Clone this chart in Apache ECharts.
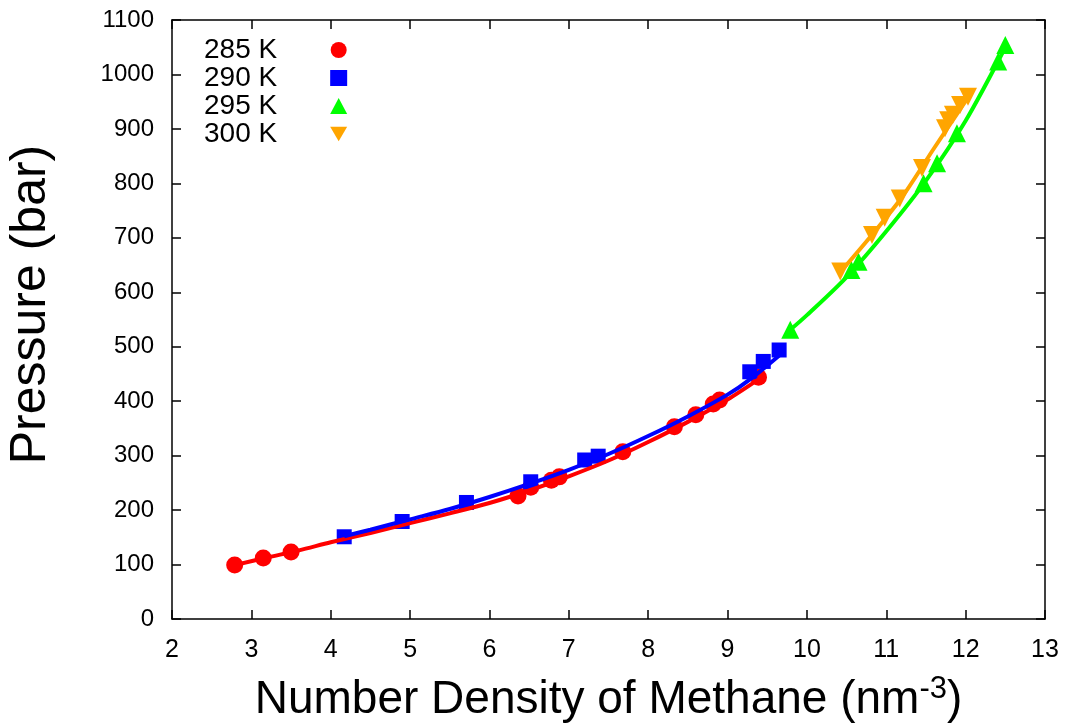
<!DOCTYPE html>
<html>
<head>
<meta charset="utf-8">
<script src="https://cdn.jsdelivr.net/npm/echarts@6/dist/echarts.min.js"></script>
<style>html,body{margin:0;padding:0;background:#fff}#chart{width:1065px;height:724px}</style>
</head>
<body>
<div id="chart"></div>
<script>
// Measured points (density nm^-3, pressure bar)
var d285x = [2.79, 3.15, 3.50, 6.36, 6.52, 6.78, 6.88, 7.68, 8.33, 8.60, 8.82, 8.90, 9.39];
var d285y = [99, 112, 123, 226, 242, 255, 261, 307, 353, 375, 395, 402, 444];
var d290x = [4.17, 4.90, 5.71, 6.52, 7.20, 7.37, 9.28, 9.45, 9.65];
var d290y = [151, 179, 214, 252, 292, 299, 454, 473, 494];
var d295x = [9.79, 10.56, 10.65, 11.47, 11.64, 11.89, 12.41, 12.50];
var d295y = [531, 641, 656, 800, 837, 892, 1024, 1054];
var d300x = [10.42, 10.82, 10.98, 11.17, 11.45, 11.74, 11.78, 11.84, 11.93, 12.03];
var d300y = [638, 705, 737, 772, 828, 901, 916, 926, 944, 959];
// Fitted curves
var f285x = [2.79, 3.2, 3.6, 4, 4.5, 5, 5.5, 6, 6.5, 7, 7.5, 8, 8.5, 9, 9.39];
var f285y = [99, 113, 126, 141, 158, 176, 194, 213, 236, 262, 291, 325, 362, 403, 440];
var f290x = [4.17, 4.5, 5, 5.5, 6, 6.5, 7, 7.5, 8, 8.5, 9, 9.3, 9.7];
var f290y = [152, 164, 183, 202, 224, 248, 274, 303, 336, 372, 412, 442, 490];
var f295x = [9.79, 10, 10.5, 11, 11.5, 12, 12.5];
var f295y = [531, 558, 628, 712, 805, 915, 1050];
var f300x = [10.42, 10.8, 11.2, 11.6, 12.05];
var f300y = [637, 702, 775, 864, 962];
var names = ['285 K', '290 K', '295 K', '300 K'];
var colors = ['#ff0000', '#0000ff', '#00ff00', '#ffa500'];
var symbols = ['circle', 'rect', 'triangle', 'path://M0,0 L10,0 L5,8.66 Z'];
var symSizes = [17, 15, 18, 18];

function pairs(xs, ys) { return xs.map(function (x, i) { return [x, ys[i]]; }); }
var pts = [pairs(d285x, d285y), pairs(d290x, d290y), pairs(d295x, d295y), pairs(d300x, d300y)];
var fits = [pairs(f285x, f285y), pairs(f290x, f290y), pairs(f295x, f295y), pairs(f300x, f300y)];

var series = [];
for (var i = 0; i < 4; i++) {
  series.push({
    name: names[i], type: 'scatter', data: pts[i], symbol: symbols[i], symbolSize: symSizes[i],
    itemStyle: { color: colors[i], opacity: 1 }, z: 2, xAxisIndex: 0, yAxisIndex: 0
  });
}
for (var j = 0; j < 4; j++) {
  series.push({
    name: 'fit' + j, type: 'line', data: fits[j], smooth: 0.3, showSymbol: false, symbol: 'none',
    lineStyle: { color: colors[j], width: 4 }, z: 3, silent: true, xAxisIndex: 0, yAxisIndex: 0
  });
}

var font = 'Liberation Sans, Arial, Helvetica, sans-serif';
var tickCommon = { show: true, inside: true, length: 9, lineStyle: { color: '#000', width: 1.5 } };
var lineCommon = { show: true, onZero: false, lineStyle: { color: '#000', width: 1.5 } };

var chart = echarts.init(document.getElementById('chart'), null, { renderer: 'canvas' });
chart.setOption({
  animation: false,
  backgroundColor: '#fff',
  grid: { left: 172, right: 20, top: 20, bottom: 105, containLabel: false, outerBoundsMode: 'none' },
  legend: {
    data: names.map(function (n, i) { return { name: n, icon: symbols[i] }; }),
    orient: 'vertical', left: 199, top: 31, align: 'right',
    itemWidth: 17, itemHeight: 16, itemGap: 0,
    textStyle: { fontFamily: font, fontSize: 28, color: '#000', lineHeight: 28, padding: [0, 48, 0, 0] }
  },
  xAxis: [{
    type: 'value', min: 2, max: 13, interval: 1,
    name: 'Number Density of Methane (nm{sup|-3})', nameLocation: 'middle', nameGap: 55,
    nameTextStyle: { fontFamily: font, fontSize: 46, color: '#000',
      rich: { sup: { fontFamily: font, fontSize: 31, color: '#000', verticalAlign: 'top', padding: [0, 0, 22, 0] } } },
    axisLine: lineCommon, axisTick: tickCommon, splitLine: { show: false },
    axisLabel: { fontFamily: font, fontSize: 25, color: '#000', margin: 19 }
  }, {
    type: 'value', min: 2, max: 13, interval: 1, position: 'top',
    axisLine: lineCommon, axisTick: tickCommon, splitLine: { show: false }, axisLabel: { show: false }
  }],
  yAxis: [{
    type: 'value', min: 0, max: 1100, interval: 100,
    name: 'Pressure (bar)', nameLocation: 'middle', nameGap: 116, nameRotate: 90,
    nameTextStyle: { fontFamily: font, fontSize: 50, color: '#000', padding: [0, 0, 0, 30] },
    axisLine: lineCommon, axisTick: tickCommon, splitLine: { show: false },
    axisLabel: { fontFamily: font, fontSize: 24, color: '#000', margin: 18,
      formatter: function (v) { return String(v); } }
  }, {
    type: 'value', min: 0, max: 1100, interval: 100, position: 'right',
    axisLine: lineCommon, axisTick: tickCommon, splitLine: { show: false }, axisLabel: { show: false }
  }],
  series: series
});
</script>
</body>
</html>
